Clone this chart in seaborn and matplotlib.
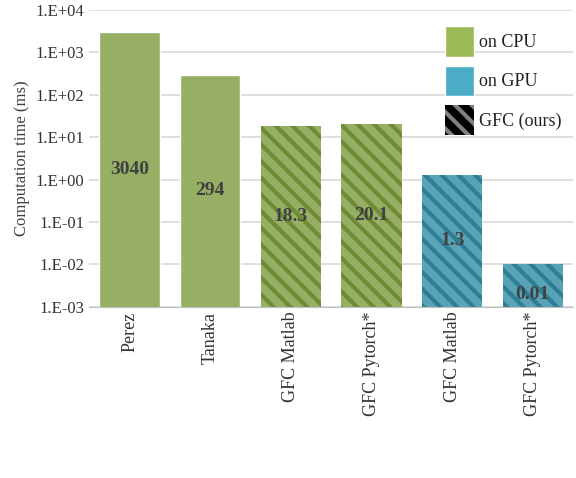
import matplotlib
matplotlib.use('Agg')
import matplotlib.pyplot as plt
import matplotlib.patches as mpatches
import pandas as pd
import seaborn as sns

methods = ['Perez', 'Tanaka', 'GFC Matlab', 'GFC Pytorch*', 'GFC Matlab ', 'GFC Pytorch* ']
times = [3040, 294, 18.3, 20.1, 1.3, 0.01]
device = ['CPU', 'CPU', 'CPU', 'CPU', 'GPU', 'GPU']
ours = [False, False, True, True, True, True]
value_labels = ['3040', '294', '18.3', '20.1', '1.3', '0.01']
tick_labels = ['1.E-03', '1.E-02', '1.E-01', '1.E+00', '1.E+01', '1.E+02', '1.E+03', '1.E+04']

green, blue = '#9BBB59', '#4BACC6'
dark = {'CPU': '#6F8C35', 'GPU': '#2E7F95'}

sns.set_style('white')
plt.rcParams['font.family'] = ['Liberation Serif', 'DejaVu Serif']
plt.rcParams['hatch.linewidth'] = 3.0

df = pd.DataFrame({'method': methods, 'time': times, 'device': device})
fig = plt.figure(figsize=(5.76, 4.78), dpi=100)
ax = fig.add_axes([0.155, 0.358, 0.84, 0.621])
ax.set_yscale('log')
sns.barplot(data=df, x='method', y='time', hue='device', palette={'CPU': green, 'GPU': blue},
            dodge=False, width=0.75, legend=False, ax=ax)
ax.set_axisbelow(True)
for bar, d, o, lab in zip(ax.patches, device, ours, value_labels):
    if o:
        bar.set_hatch('\\\\')
        bar.set_edgecolor(dark[d])
        bar.set_linewidth(0)
    h = bar.get_height()
    ax.text(bar.get_x() + bar.get_width() / 2, (h * 1e-3) ** 0.5 if h > 0.05 else h * 0.2, lab,
            ha='center', va='center', fontsize=14, fontweight='bold', color='#404040', zorder=5)

ax.set_ylim(1e-3, 1e4)
ax.set_yticks([10.0 ** k for k in range(-3, 5)])
ax.set_yticklabels(tick_labels, fontsize=12)
ax.minorticks_off()
ax.yaxis.grid(True, color='#D9D9D9', linewidth=1.2)
ax.set_xlabel('')
ax.set_ylabel('Computation time (ms)', fontsize=12, color='#404040')
ax.set_xticks(range(len(methods)))
ax.set_xticklabels([m.strip() for m in methods], rotation=90, fontsize=13)
ax.tick_params(axis='both', length=0, colors='#404040', labelcolor='#333333')
for s in ['top', 'right', 'left']:
    ax.spines[s].set_visible(False)
ax.spines['bottom'].set_color('#BFBFBF')

handles = [mpatches.Patch(facecolor=green, label='on CPU'),
           mpatches.Patch(facecolor=blue, label='on GPU'),
           mpatches.Patch(facecolor='black', edgecolor='#808080', hatch='\\\\', linewidth=0, label='GFC (ours)')]
leg = ax.legend(handles=handles, loc='upper right', bbox_to_anchor=(1.01, 1.0), frameon=False, fontsize=13,
                handlelength=1.6, handleheight=2.2, handletextpad=0.3, labelspacing=0.5)
for t in leg.get_texts():
    t.set_color('#222222')

fig.savefig('out.png', dpi=100)
